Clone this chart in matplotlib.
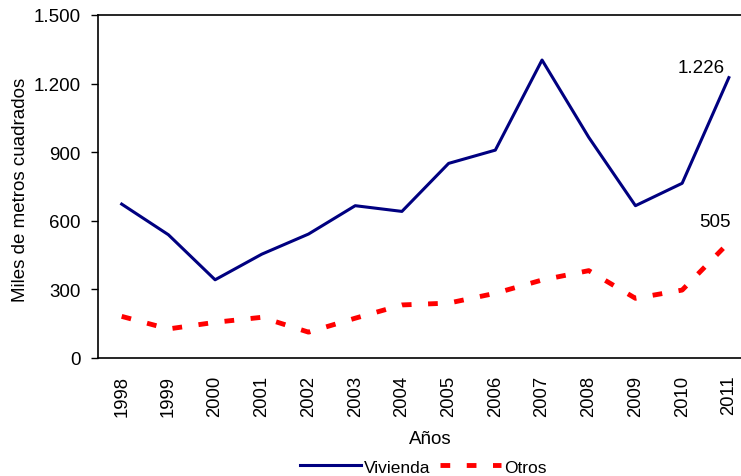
import matplotlib
matplotlib.use('Agg')
import matplotlib.pyplot as plt
from matplotlib.ticker import FuncFormatter

plt.rcParams['font.family'] = ['Liberation Sans', 'DejaVu Sans']

# datos
anios = ['1998', '1999', '2000', '2001', '2002', '2003', '2004',
         '2005', '2006', '2007', '2008', '2009', '2010', '2011']
vivienda = [673, 539, 342, 454, 542, 666, 641, 851, 909, 1303, 965, 666, 764, 1226]
otros = [182, 127, 156, 178, 113, 174, 232, 240, 283, 341, 382, 261, 297, 505]

fig = plt.figure(figsize=(7.41, 4.77), dpi=100)
ax = fig.add_axes([0.1327, 0.2474, 0.8673, 0.7191])

x = list(range(len(anios)))
ax.plot(x, vivienda, color='#000080', lw=2.2, label='Vivienda')
ax.plot(x, otros, color='#ff0000', lw=3.5, dashes=(2.0, 3.4), label='Otros')

# etiquetas del último valor
ax.annotate('1.226', (x[-1], vivienda[-1]), xytext=(-4, 10), textcoords='offset pixels',
            ha='right', va='center', fontsize=13.5)
ax.annotate('505', (x[-1], otros[-1]), xytext=(2, 21), textcoords='offset pixels',
            ha='right', va='center', fontsize=13.5)

ax.set_xlim(-0.5, 13.26)
ax.set_ylim(0, 1500)
ax.set_yticks(range(0, 1501, 300))
ax.yaxis.set_major_formatter(FuncFormatter(lambda v, p: f'{int(v):,}'.replace(',', '.')))
ax.set_xticks(x)
ax.set_xticklabels(anios, rotation=90, fontsize=13.3)
ax.tick_params(axis='y', labelsize=13.5, length=5, width=1, pad=8)
ax.tick_params(axis='x', length=0, pad=12)

for s in ['top', 'left', 'bottom']:
    ax.spines[s].set_linewidth(1.2)
ax.spines['right'].set_visible(False)

ax.set_ylabel('Miles de metros cuadrados', fontsize=13.5)
ax.yaxis.set_label_coords(-0.108, 0.493)
ax.set_xlabel('Años', fontsize=13.5)
ax.xaxis.set_label_coords(0.517, -0.209)

fig.legend(loc='center', bbox_to_anchor=(0.5715, 0.019), ncol=2, frameon=False,
           fontsize=12.5, handlelength=3.5, columnspacing=0.57, handletextpad=0.17,
           borderpad=0, borderaxespad=0)

plt.savefig('out.png', dpi=100)
